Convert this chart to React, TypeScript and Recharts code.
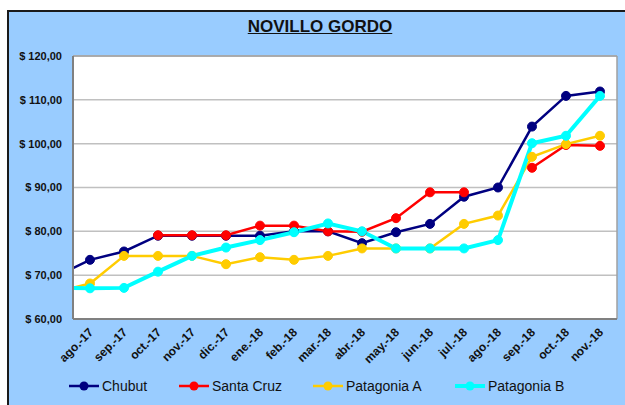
import React from "react";
import { LineChart, Line, XAxis, YAxis, CartesianGrid, ReferenceLine } from "recharts";

// first entry is the month before the visible range (only its line stub shows at the left edge)
const months = [
  "jul.-17", "ago.-17", "sep.-17", "oct.-17", "nov.-17", "dic.-17", "ene.-18", "feb.-18", "mar.-18",
  "abr.-18", "may.-18", "jun.-18", "jul.-18", "ago.-18", "sep.-18", "oct.-18", "nov.-18",
];

const chubut = [69.7, 73.5, 75.4, 79.0, 79.0, 79.0, 79.0, 80.0, 80.0, 77.3, 79.8, 81.7, 87.9, 90.0, 103.9, 110.9, 111.9];
const santaCruz = [null, null, null, 79.1, 79.1, 79.1, 81.3, 81.3, 80.0, 79.9, 83.0, 88.9, 88.9, null, 94.5, 99.7, 99.5];
const patagoniaA = [66.1, 68.1, 74.4, 74.4, 74.4, 72.5, 74.1, 73.5, 74.4, 76.1, 76.1, 76.1, 81.7, 83.6, 97.0, 99.9, 101.8];
const patagoniaB = [67.2, 67.0, 67.1, 70.8, 74.4, 76.3, 78.0, 79.8, 81.8, 80.0, 76.1, 76.1, 76.1, 78.0, 100.1, 101.8, 110.9];

const yTicks = [60, 70, 80, 90, 100, 110, 120];
const xTicks = months.slice(1).map((_, i) => i);

const data = months.map((m, i) => ({
  x: i - 1,
  month: m,
  chubut: chubut[i],
  santaCruz: santaCruz[i],
  patagoniaA: patagoniaA[i],
  patagoniaB: patagoniaB[i],
}));

const series = [
  { key: "chubut", name: "Chubut", color: "#000080", width: 2.5, r: 4.5 },
  { key: "santaCruz", name: "Santa Cruz", color: "#FF0000", width: 2.5, r: 4.5 },
  { key: "patagoniaA", name: "Patagonia A", color: "#FFCC00", width: 2.5, r: 4.5 },
  { key: "patagoniaB", name: "Patagonia B", color: "#00FFFF", width: 4, r: 4.5 },
];

const FONT = "'Liberation Sans', Arial, sans-serif";

function MonthTick({ x, y, payload }: any) {
  const tx = x + 4;
  const ty = y + 12;
  return (
    <text
      x={tx}
      y={ty}
      transform={`rotate(-45 ${tx} ${ty})`}
      textAnchor="end"
      fontSize={12}
      fontWeight="bold"
      fontFamily={FONT}
      fill="#111"
    >
      {months[payload.value + 1]}
    </text>
  );
}

const fmtMoney = (v: number) => `$ ${v.toFixed(2).replace(".", ",")}`;

export default function App() {
  // legend x positions (left edge of each item)
  const legendX = [69, 179, 313, 455];
  return (
    <div style={{ position: "absolute", left: 0, top: 0, width: 625, height: 405, background: "#fff", overflow: "hidden", fontFamily: FONT }}>
      <div
        style={{
          position: "absolute",
          left: 7,
          top: 10,
          width: 630,
          height: 400,
          background: "#99CCFF",
          borderLeft: "2px solid #1a1a1a",
          borderTop: "2px solid #1a1a1a",
        }}
      />
      <div
        style={{
          position: "absolute",
          left: 7,
          top: 17,
          width: 625 - 7 + 8,
          textAlign: "center",
          fontSize: 17,
          fontWeight: "bold",
          textDecoration: "underline",
          color: "#111",
        }}
      >
        NOVILLO GORDO
      </div>
      <div style={{ position: "absolute", left: 0, top: 0 }}>
        <LineChart width={625} height={405} data={data} margin={{ top: 56, right: 8, left: 0, bottom: 36 }}>
          <CartesianGrid horizontal vertical={false} stroke="#c0c0c0" strokeWidth={1.5} fill="#ffffff" />
          <XAxis
            dataKey="x"
            type="number"
            domain={[-0.5, 15.5]}
            allowDataOverflow
            ticks={xTicks}
            interval={0}
            tick={<MonthTick />}
            tickLine={false}
            tickSize={0}
            height={50}
            axisLine={{ stroke: "#808080", strokeWidth: 2 }}
          />
          <YAxis
            type="number"
            domain={[60, 120]}
            ticks={yTicks}
            allowDataOverflow
            width={73}
            tickLine={false}
            tickSize={0}
            tickMargin={11}
            tickFormatter={fmtMoney}
            tick={{ fontSize: 11, fontWeight: "bold", fill: "#111", fontFamily: FONT }}
            axisLine={{ stroke: "#808080", strokeWidth: 2 }}
          />
          <ReferenceLine y={120} stroke="#a0a0a0" strokeWidth={1.5} />
          <ReferenceLine x={15.5} stroke="#a0a0a0" strokeWidth={1.5} />
          {series.map((s) => (
            <Line
              key={s.key}
              dataKey={s.key}
              name={s.name}
              type="linear"
              stroke={s.color}
              strokeWidth={s.width}
              dot={{ r: s.r, fill: s.color, stroke: s.color, strokeWidth: 1 }}
              activeDot={false}
              connectNulls={false}
              isAnimationActive={false}
            />
          ))}
        </LineChart>
      </div>
      <svg style={{ position: "absolute", left: 0, top: 370 }} width={625} height={35}>
        {series.map((s, i) => (
          <g key={s.key}>
            <line x1={legendX[i]} x2={legendX[i] + 30} y1={16} y2={16} stroke={s.color} strokeWidth={s.width} />
            <circle cx={legendX[i] + 15} cy={16} r={4.5} fill={s.color} />
            <text x={legendX[i] + 33} y={21} fontSize={14} fontFamily={FONT} fill="#111">
              {s.name}
            </text>
          </g>
        ))}
      </svg>
    </div>
  );
}
